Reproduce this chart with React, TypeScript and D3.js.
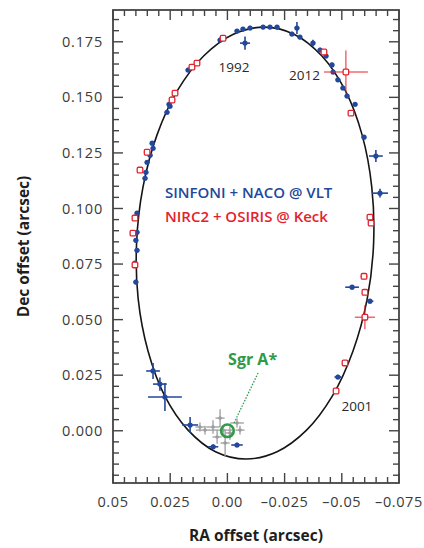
import React, { useRef, useEffect } from "react";
import * as d3 from "d3";

const WIDTH = 424;
const HEIGHT = 548;
const margin = { top: 10, right: 25, bottom: 65, left: 113 };

const BLUE = "#23479a";
const RED = "#e4222c";
const GREEN = "#2f9a48";
const GRAY = "#9c9c9c";

const xTicks = [0.05, 0.025, 0, -0.025, -0.05, -0.075];
const xTickLabels = ["0.05", "0.025", "0.00", "–0.025", "–0.05", "–0.075"];
const yTicks = [0, 0.025, 0.05, 0.075, 0.1, 0.125, 0.15, 0.175];
const yTickLabels = ["0.000", "0.025", "0.050", "0.075", "0.100", "0.125", "0.150", "0.175"];

// orbit trace, [RA, Dec] in arcsec
const orbitTrace: [number, number][] = [
  [-0.0639, 0.0844], [-0.0631, 0.1096], [-0.0589, 0.133], [-0.0515, 0.1531],
  [-0.0413, 0.1686], [-0.0293, 0.1783], [-0.016, 0.1816], [-0.0024, 0.1783],
  [0.0104, 0.1686], [0.0218, 0.1531], [0.0308, 0.133], [0.0369, 0.1096],
  [0.0397, 0.0844], [0.039, 0.0593], [0.0347, 0.0359], [0.0274, 0.0157],
  [0.0172, 0.0003], [0.0052, -0.0094], [-0.0081, -0.0127], [-0.0217, -0.0094],
  [-0.0346, 0.0003], [-0.0459, 0.0157], [-0.0549, 0.0359], [-0.0611, 0.0593],
];

// SINFONI + NACO @ VLT: [RA, Dec, errRA, errDec]
const vltPoints: [number, number, number, number][] = [
  [0.0172, 0.1623, 0.001, 0.001], [0.0032, 0.1758, 0.001, 0.001],
  [-0.0042, 0.1798, 0.001, 0.001], [-0.0068, 0.1807, 0.001, 0.0008],
  [-0.0099, 0.1812, 0.001, 0.001], [-0.0156, 0.1816, 0.001, 0.001],
  [-0.0186, 0.1816, 0.001, 0.0008], [-0.0217, 0.1816, 0.001, 0.001],
  [-0.0304, 0.1812, 0.001, 0.0027], [-0.0282, 0.1785, 0.001, 0.001],
  [-0.0317, 0.1771, 0.001, 0.001], [-0.0077, 0.1744, 0.0022, 0.003],
  [-0.0374, 0.1744, 0.001, 0.0015], [-0.0405, 0.1713, 0.001, 0.001],
  [-0.0431, 0.1686, 0.001, 0.001], [-0.0457, 0.1646, 0.001, 0.001],
  [-0.0462, 0.1614, 0.001, 0.001], [-0.0483, 0.1579, 0.001, 0.001],
  [-0.0505, 0.1542, 0.001, 0.001], [-0.0523, 0.1506, 0.001, 0.001],
  [-0.0558, 0.1469, 0.001, 0.001], [-0.0597, 0.1321, 0.001, 0.001],
  [-0.0649, 0.1236, 0.003, 0.0027], [-0.0667, 0.1069, 0.0035, 0.002],
  [-0.0545, 0.0646, 0.003, 0.001], [-0.0623, 0.0583, 0.0015, 0.001],
  [-0.0483, 0.0242, 0.0015, 0.001], [0.0062, -0.0072, 0.0022, 0.001],
  [-0.0042, -0.0064, 0.0025, 0.001], [0.0163, 0.0026, 0.0035, 0.0036],
  [0.0273, 0.0152, 0.0074, 0.0063], [0.0295, 0.021, 0.003, 0.003],
  [0.0325, 0.0269, 0.003, 0.0036], [0.04, 0.0669, 0.001, 0.001],
  [0.0404, 0.0754, 0.001, 0.001], [0.0395, 0.0812, 0.001, 0.001],
  [0.04, 0.0857, 0.001, 0.001], [0.0395, 0.0893, 0.001, 0.001],
  [0.0395, 0.0979, 0.001, 0.001], [0.036, 0.1136, 0.001, 0.001],
  [0.0356, 0.1163, 0.001, 0.001], [0.0351, 0.1208, 0.001, 0.001],
  [0.0338, 0.124, 0.001, 0.001], [0.0325, 0.1271, 0.001, 0.001],
  [0.0329, 0.1294, 0.001, 0.001], [0.0264, 0.1433, 0.001, 0.001],
  [0.0255, 0.1469, 0.001, 0.001], [0.0242, 0.1492, 0.001, 0.001],
  [0.0251, 0.146, 0.001, 0.001],
];

// NIRC2 + OSIRIS @ Keck: [RA, Dec, errRA, errDec]
const keckPoints: [number, number, number, number][] = [
  [0.0133, 0.1654, 0, 0], [0.0155, 0.1636, 0, 0], [0.0019, 0.1766, 0, 0],
  [0.0229, 0.1519, 0, 0], [0.0242, 0.1488, 0, 0], [0.0351, 0.1253, 0, 0],
  [0.0382, 0.1173, 0, 0], [0.0404, 0.0957, 0, 0], [0.0413, 0.0889, 0, 0],
  [0.0404, 0.0746, 0, 0], [-0.0422, 0.1704, 0, 0],
  [-0.0518, 0.1614, 0.0096, 0.0097], [-0.054, 0.1429, 0, 0],
  [-0.0623, 0.0961, 0, 0], [-0.0628, 0.0934, 0, 0],
  [-0.0597, 0.0695, 0.0015, 0.0015], [-0.0601, 0.0623, 0, 0],
  [-0.0601, 0.0511, 0.0044, 0.0054], [-0.0514, 0.0305, 0, 0],
  [-0.0475, 0.0179, 0, 0],
];

// positions near Sgr A* (grey): [RA, Dec, errRA, errDec]
const sgrPoints: [number, number, number, number][] = [
  [0.0063, 0.0017, 0.003, 0.003], [0.0032, 0.0057, 0.002, 0.004],
  [0.0019, 0.0003, 0.004, 0.002], [-0.0011, -0.001, 0.002, 0.003],
  [-0.0042, 0.0035, 0.003, 0.002], [0.0045, -0.0028, 0.002, 0.003],
  [0.001, -0.0055, 0.002, 0.006], [-0.0055, 0.0003, 0.002, 0.002],
  [0.0098, 0.0003, 0.004, 0.002], [0.012, 0.0017, 0.002, 0.002],
];

const yearLabels = [
  { text: "1992", ra: -0.0029, dec: 0.1614 },
  { text: "2012", ra: -0.0337, dec: 0.1578 },
  { text: "2001", ra: -0.0566, dec: 0.0089 },
];

const legendItems = [
  { text: "SINFONI + NACO @ VLT", color: BLUE },
  { text: "NIRC2 + OSIRIS @ Keck", color: RED },
];

const App: React.FC = () => {
  const svgRef = useRef<SVGSVGElement | null>(null);

  useEffect(() => {
    if (!svgRef.current) return;
    const svg = d3.select(svgRef.current);
    svg.selectAll("*").remove();

    const innerWidth = WIDTH - margin.left - margin.right;
    const innerHeight = HEIGHT - margin.top - margin.bottom;

    // RA increases to the left
    const x = d3.scaleLinear().domain([0.05, -0.075]).range([0, innerWidth]);
    const y = d3.scaleLinear().domain([-0.0235, 0.1893]).range([innerHeight, 0]);

    const g = svg
      .append("g")
      .attr("transform", `translate(${margin.left},${margin.top})`);

    // orbit
    const line = d3
      .line<[number, number]>()
      .x((d) => x(d[0]))
      .y((d) => y(d[1]))
      .curve(d3.curveCatmullRomClosed.alpha(0.5));

    g.append("path")
      .datum(orbitTrace)
      .attr("d", line)
      .attr("fill", "none")
      .attr("stroke", "#151515")
      .attr("stroke-width", 1.6);

    const drawErrors = (
      data: [number, number, number, number][],
      color: string,
      width: number
    ) => {
      const eg = g.append("g").attr("stroke", color).attr("stroke-width", width);
      data.forEach((d) => {
        if (d[2] > 0)
          eg.append("line")
            .attr("x1", x(d[0] - d[2]))
            .attr("x2", x(d[0] + d[2]))
            .attr("y1", y(d[1]))
            .attr("y2", y(d[1]));
        if (d[3] > 0)
          eg.append("line")
            .attr("x1", x(d[0]))
            .attr("x2", x(d[0]))
            .attr("y1", y(d[1] - d[3]))
            .attr("y2", y(d[1] + d[3]));
      });
    };

    // grey positions near Sgr A*
    drawErrors(sgrPoints, GRAY, 1.3);
    g.append("g")
      .selectAll("circle")
      .data(sgrPoints)
      .join("circle")
      .attr("cx", (d) => x(d[0]))
      .attr("cy", (d) => y(d[1]))
      .attr("r", 1.8)
      .attr("fill", GRAY);

    // VLT
    drawErrors(vltPoints, BLUE, 1.6);
    g.append("g")
      .selectAll("circle")
      .data(vltPoints)
      .join("circle")
      .attr("cx", (d) => x(d[0]))
      .attr("cy", (d) => y(d[1]))
      .attr("r", 2.6)
      .attr("fill", BLUE);

    // Keck
    drawErrors(keckPoints, RED, 1);
    g.append("g")
      .selectAll("rect")
      .data(keckPoints)
      .join("rect")
      .attr("x", (d) => x(d[0]) - 2.8)
      .attr("y", (d) => y(d[1]) - 2.8)
      .attr("width", 5.6)
      .attr("height", 5.6)
      .attr("rx", 1.2)
      .attr("fill", "white")
      .attr("stroke", RED)
      .attr("stroke-width", 1.3);

    // Sgr A*
    g.append("line")
      .attr("x1", x(-0.0134))
      .attr("y1", y(0.026))
      .attr("x2", x(-0.0029))
      .attr("y2", y(0.0035))
      .attr("stroke", GREEN)
      .attr("stroke-width", 1.3)
      .attr("stroke-dasharray", "1.5,1.5");
    g.append("circle")
      .attr("cx", x(0))
      .attr("cy", y(0))
      .attr("r", 6.3)
      .attr("fill", "none")
      .attr("stroke", GREEN)
      .attr("stroke-width", 2.6);
    g.append("text")
      .attr("x", x(-0.0003))
      .attr("y", y(0.0296))
      .attr("fill", GREEN)
      .style("font-family", "'Open Sans', sans-serif")
      .style("font-weight", 700)
      .style("font-size", "16px")
      .text("Sgr A*");

    // year annotations
    g.append("g")
      .selectAll("text")
      .data(yearLabels)
      .join("text")
      .attr("x", (d) => x(d.ra))
      .attr("y", (d) => y(d.dec))
      .attr("text-anchor", "middle")
      .attr("fill", "#2a2a2a")
      .style("font-family", "'Open Sans', sans-serif")
      .style("font-size", "13.5px")
      .text((d) => d.text);

    // legend
    g.append("g")
      .selectAll("text")
      .data(legendItems)
      .join("text")
      .attr("x", 52)
      .attr("y", (_, i) => 188 + i * 24)
      .attr("fill", (d) => d.color)
      .style("font-family", "'Open Sans', sans-serif")
      .style("font-weight", 600)
      .style("font-size", "15px")
      .text((d) => d.text);

    // frame + inward ticks on all sides
    const axisColor = "#444";
    const xMinor = d3.range(-0.075, 0.0501, 0.005);
    const yMinor = d3.range(-0.02, 0.1851, 0.005);
    const isMajor = (v: number) => Math.abs(v / 0.025 - Math.round(v / 0.025)) < 1e-6;

    const ticks = g.append("g").attr("stroke", axisColor).attr("stroke-width", 1.4);
    xMinor.forEach((v) => {
      const len = isMajor(v) ? 10 : 6;
      ticks.append("line")
        .attr("x1", x(v)).attr("x2", x(v))
        .attr("y1", innerHeight).attr("y2", innerHeight - len);
      ticks.append("line")
        .attr("x1", x(v)).attr("x2", x(v))
        .attr("y1", 0).attr("y2", len);
    });
    yMinor.forEach((v) => {
      const len = isMajor(v) ? 10 : 6;
      ticks.append("line")
        .attr("y1", y(v)).attr("y2", y(v))
        .attr("x1", 0).attr("x2", len);
      ticks.append("line")
        .attr("y1", y(v)).attr("y2", y(v))
        .attr("x1", innerWidth).attr("x2", innerWidth - len);
    });

    g.append("rect")
      .attr("width", innerWidth)
      .attr("height", innerHeight)
      .attr("fill", "none")
      .attr("stroke", axisColor)
      .attr("stroke-width", 1.8);

    // tick labels
    g.append("g")
      .selectAll("text")
      .data(xTicks)
      .join("text")
      .attr("x", (d) => x(d))
      .attr("y", innerHeight + 24)
      .attr("text-anchor", "middle")
      .attr("fill", "#3a3a3a")
      .style("font-family", "'Open Sans', sans-serif")
      .style("font-size", "14.5px")
      .style("letter-spacing", "0.6px")
      .text((_, i) => xTickLabels[i]);

    g.append("g")
      .selectAll("text")
      .data(yTicks)
      .join("text")
      .attr("x", -10)
      .attr("y", (d) => y(d))
      .attr("dy", "0.35em")
      .attr("text-anchor", "end")
      .attr("fill", "#3a3a3a")
      .style("font-family", "'Open Sans', sans-serif")
      .style("font-size", "14.5px")
      .style("letter-spacing", "0.8px")
      .text((_, i) => yTickLabels[i]);

    // axis titles
    g.append("text")
      .attr("x", innerWidth / 2)
      .attr("y", innerHeight + 58)
      .attr("text-anchor", "middle")
      .attr("fill", "#1e1e1e")
      .style("font-family", "'Open Sans', sans-serif")
      .style("font-weight", 700)
      .style("font-size", "15.5px")
      .text("RA offset (arcsec)");

    g.append("text")
      .attr("transform", "rotate(-90)")
      .attr("x", -innerHeight / 2)
      .attr("y", -margin.left + 29)
      .attr("text-anchor", "middle")
      .attr("fill", "#1e1e1e")
      .style("font-family", "'Open Sans', sans-serif")
      .style("font-weight", 700)
      .style("font-size", "15.5px")
      .text("Dec offset (arcsec)");
  }, []);

  return (
    <svg
      ref={svgRef}
      width={WIDTH}
      height={HEIGHT}
      style={{ position: "absolute", left: 0, top: 0, background: "white" }}
    />
  );
};

export default App;
